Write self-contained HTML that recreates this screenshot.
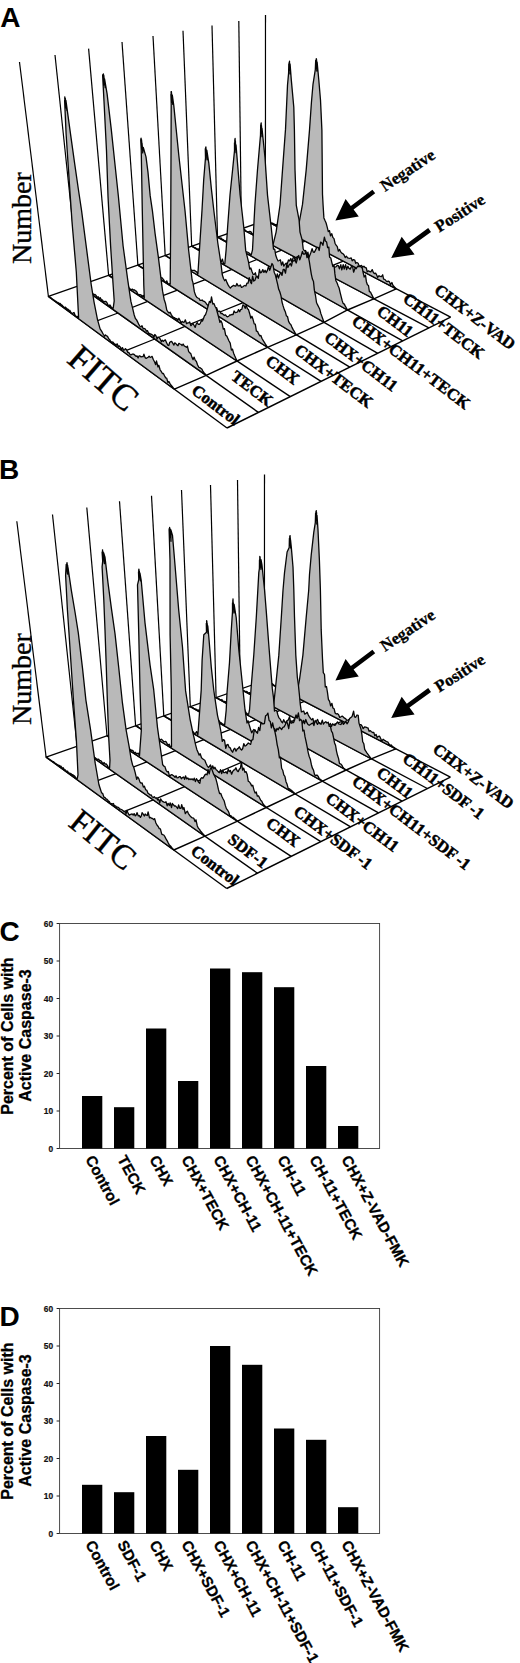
<!DOCTYPE html>
<html><head><meta charset="utf-8"><title>Figure</title>
<style>
html,body{margin:0;padding:0;background:#fff;}
body{width:520px;height:1663px;overflow:hidden;}
svg{display:block;}
text{white-space:pre;}
</style></head><body>
<svg width="520" height="1663" viewBox="0 0 520 1663">
<rect width="520" height="1663" fill="#fff"/>
<g id="panelA">
<line x1="48.4" y1="296.4" x2="265.4" y2="220.4" stroke="#000" stroke-width="1.30"/>
<polyline points="174.4,389.2 206.2,375.4 237.0,361.0 267.5,347.3 296.3,334.8 324.0,322.3 347.5,310.0 373.8,298.8 396.2,288.8" fill="none" stroke="#000" stroke-width="1.4"/>
<polyline points="86.9,324.7 118.0,313.0 147.7,301.4 177.4,290.1 205.2,279.7 232.1,269.4 257.2,259.4 281.8,250.1 305.3,241.2" fill="none" stroke="#000" stroke-width="1.3"/>
<polyline points="123.4,351.6 154.8,339.0 185.0,326.3 215.0,314.0 243.2,302.7 270.4,291.5 294.9,280.5 320.2,270.4 343.3,261.1" fill="none" stroke="#000" stroke-width="1.3"/>
<line x1="227.0" y1="428.0" x2="450.6" y2="317.2" stroke="#000" stroke-width="1.40"/>
<line x1="48.4" y1="296.4" x2="227.0" y2="428.0" stroke="#000" stroke-width="1.40"/>
<line x1="79.3" y1="285.6" x2="258.4" y2="412.4" stroke="#000" stroke-width="1.40"/>
<line x1="108.6" y1="275.3" x2="290.3" y2="396.6" stroke="#000" stroke-width="1.40"/>
<line x1="137.9" y1="265.1" x2="321.1" y2="381.3" stroke="#000" stroke-width="1.40"/>
<line x1="165.2" y1="255.5" x2="349.8" y2="367.1" stroke="#000" stroke-width="1.40"/>
<line x1="191.7" y1="246.2" x2="377.8" y2="353.3" stroke="#000" stroke-width="1.40"/>
<line x1="217.5" y1="237.2" x2="402.7" y2="340.9" stroke="#000" stroke-width="1.40"/>
<line x1="241.4" y1="228.8" x2="428.9" y2="327.9" stroke="#000" stroke-width="1.40"/>
<line x1="265.4" y1="220.4" x2="450.6" y2="317.2" stroke="#000" stroke-width="1.40"/>
<line x1="19.5" y1="62.0" x2="48.4" y2="296.4" stroke="#000" stroke-width="1.20"/>
<line x1="55.0" y1="55.0" x2="79.3" y2="285.6" stroke="#000" stroke-width="1.20"/>
<line x1="88.6" y1="48.6" x2="108.6" y2="275.3" stroke="#000" stroke-width="1.20"/>
<line x1="122.0" y1="42.0" x2="137.9" y2="265.1" stroke="#000" stroke-width="1.20"/>
<line x1="153.0" y1="36.0" x2="165.2" y2="255.5" stroke="#000" stroke-width="1.20"/>
<line x1="183.0" y1="30.8" x2="191.7" y2="246.2" stroke="#000" stroke-width="1.20"/>
<line x1="212.0" y1="25.5" x2="217.5" y2="237.2" stroke="#000" stroke-width="1.20"/>
<line x1="238.8" y1="21.0" x2="241.4" y2="228.8" stroke="#000" stroke-width="1.20"/>
<line x1="265.5" y1="15.0" x2="265.4" y2="220.4" stroke="#000" stroke-width="1.20"/>
<path d="M265.4,220.4 266.6,220.6 267.8,221.0 269.0,221.7 270.2,222.7 271.4,223.1 272.5,223.2 273.7,223.8 274.9,224.4 276.1,224.8 277.3,224.5 278.5,226.0 279.6,226.3 280.8,225.8 282.0,228.4 283.2,227.7 284.4,228.3 285.6,228.5 286.7,229.9 287.9,231.3 289.1,231.9 290.3,231.8 291.5,232.4 292.7,233.1 293.8,235.0 295.0,234.8 296.2,235.0 298.8,224.7 302.5,204.4 306.2,169.9 309.5,130.1 311.4,102.7 313.0,84.3 315.3,69.7 315.7,60.3 315.7,66.4 316.0,60.0 316.0,65.0 316.3,58.6 316.3,65.6 316.6,59.7 316.5,68.8 316.8,63.0 316.8,71.1 317.1,61.9 318.8,80.0 320.5,100.0 321.9,130.1 322.5,194.3 323.1,205.3 323.9,217.9 325.0,220.6 326.1,223.0 327.2,227.2 328.3,231.6 329.5,230.6 330.5,235.8 331.8,233.7 332.8,237.4 334.0,238.6 335.0,243.2 336.1,245.2 337.3,246.7 338.3,251.1 339.6,249.5 340.7,251.9 341.8,253.1 343.0,253.8 344.1,255.0 345.2,257.6 346.4,256.2 347.6,257.8 348.8,258.1 349.9,258.3 351.2,257.9 352.2,260.8 353.5,259.6 354.7,260.0 355.7,263.3 356.9,262.5 358.1,263.2 359.1,266.0 360.4,265.8 361.6,265.5 362.7,267.2 363.9,266.3 365.1,267.5 366.3,267.8 367.2,271.8 368.5,270.9 369.6,271.5 370.8,271.8 372.2,269.6 373.2,272.2 374.3,273.7 375.6,273.2 376.7,275.1 377.7,277.4 379.0,275.7 380.2,276.4 381.4,276.7 382.7,274.8 383.6,279.2 384.8,279.4 385.9,280.7 387.1,281.7 388.3,281.1 389.5,281.9 390.5,284.7 391.9,282.5 392.9,285.3 394.0,286.4 395.1,287.6 396.2,288.8 Z" fill="#b9b9b9" stroke="#050505" stroke-width="1.3" stroke-linejoin="round"/>
<path d="M241.4,228.8 242.6,229.2 243.8,229.4 245.0,229.9 246.1,231.0 247.3,231.7 248.5,231.9 249.7,231.4 250.8,231.6 252.0,233.5 253.2,234.5 254.4,235.4 255.5,235.7 256.7,235.2 257.9,236.5 259.1,236.9 260.3,236.8 261.4,239.2 262.6,239.3 263.8,238.9 265.0,239.9 266.1,240.3 267.3,240.4 268.5,240.8 269.7,241.1 270.8,242.2 272.0,242.6 273.2,244.2 276.1,232.1 280.0,205.0 282.5,170.1 285.5,129.4 287.5,85.2 288.6,73.1 288.8,63.8 288.9,69.0 289.2,62.4 289.3,67.7 289.5,61.2 289.5,69.5 289.8,63.5 289.8,70.6 290.1,65.6 290.1,73.9 290.1,64.3 291.3,79.9 293.8,107.3 294.4,129.8 295.0,169.4 296.3,205.4 299.1,220.2 300.0,232.1 301.1,236.1 302.2,240.1 303.2,249.0 304.4,251.0 305.6,250.5 306.6,255.3 307.9,252.2 308.9,258.0 310.2,256.4 311.3,258.3 312.5,257.0 313.6,260.0 314.8,258.7 315.9,262.5 317.1,261.7 318.3,261.1 319.4,262.9 320.7,260.8 321.8,264.0 323.0,263.8 324.1,265.3 325.4,262.8 326.4,266.0 327.6,268.1 328.8,265.3 330.0,265.8 331.1,267.9 332.4,264.9 333.5,268.5 334.7,267.2 335.9,266.9 337.2,265.5 338.4,265.6 339.4,268.9 340.8,264.7 341.8,269.8 343.2,264.6 344.2,269.0 345.6,264.6 346.6,269.5 347.9,266.2 349.0,268.4 350.2,269.1 351.5,266.4 352.7,266.8 353.6,272.2 355.1,268.0 356.2,268.7 357.6,266.2 358.7,266.7 360.0,266.3 361.1,267.0 362.3,268.2 363.2,272.8 364.2,277.0 365.5,275.1 366.4,281.7 367.4,284.8 368.5,285.5 369.4,291.6 370.6,292.2 371.6,294.4 372.7,296.6 373.8,298.8 Z" fill="#b9b9b9" stroke="#050505" stroke-width="1.3" stroke-linejoin="round"/>
<path d="M217.5,237.2 218.7,237.6 219.9,238.3 221.0,238.0 222.2,239.3 223.4,239.9 224.5,240.7 225.7,240.8 226.9,242.2 228.0,241.6 229.1,241.3 230.3,243.8 231.5,243.3 232.7,245.0 233.8,245.9 235.0,245.6 236.2,246.7 237.3,247.1 238.5,247.2 239.7,247.9 240.8,247.4 242.0,248.4 243.1,249.4 244.3,250.2 245.5,251.5 246.7,251.9 247.8,252.2 249.0,253.0 250.2,254.1 251.3,254.7 252.5,249.8 254.9,205.3 257.5,169.7 260.5,135.1 260.7,125.0 260.8,131.7 261.0,123.6 261.1,129.5 261.2,122.8 261.4,131.0 261.5,125.7 261.7,133.8 261.9,128.7 262.0,136.7 262.0,128.2 265.0,157.8 267.5,195.1 271.2,227.2 273.5,249.1 274.7,249.1 275.8,255.6 276.9,258.5 278.1,261.0 279.2,260.5 280.4,259.9 281.5,265.1 282.7,261.9 283.8,266.2 284.9,264.5 286.1,263.2 287.3,263.8 288.5,260.0 289.6,260.9 290.8,258.5 291.9,262.0 293.1,257.8 294.3,257.4 295.4,260.9 296.6,257.1 297.8,256.5 299.0,258.5 300.1,260.4 301.3,257.0 302.5,257.0 303.6,260.2 304.8,257.4 305.9,259.7 307.2,255.8 308.3,259.3 309.6,255.8 310.8,252.8 312.1,248.7 313.2,252.0 314.4,252.3 315.6,249.9 316.9,247.3 318.1,247.3 319.2,250.5 320.6,242.1 321.8,243.1 322.9,245.3 324.4,237.2 325.4,241.1 326.6,242.0 327.6,247.6 328.8,247.1 329.6,257.2 330.8,258.0 331.8,262.3 332.9,266.5 334.1,265.6 334.9,273.9 335.9,280.8 337.0,282.8 338.0,285.4 339.1,288.0 340.1,292.3 341.1,296.4 342.1,300.4 343.1,303.4 344.3,304.1 345.3,306.1 346.4,308.0 347.5,310.0 Z" fill="#b9b9b9" stroke="#050505" stroke-width="1.3" stroke-linejoin="round"/>
<path d="M191.7,246.2 192.9,246.6 194.0,247.3 195.2,247.7 196.3,248.6 197.4,249.3 198.5,248.9 199.7,250.3 200.8,250.5 202.0,251.8 203.1,251.1 204.2,251.9 205.4,252.2 206.5,253.8 207.7,253.8 208.8,255.3 209.9,254.9 211.1,257.2 212.2,255.9 213.3,256.4 214.5,257.8 215.6,257.0 216.8,258.9 217.9,257.9 219.1,260.5 220.2,261.5 221.4,261.6 222.4,259.1 223.7,264.2 224.8,263.8 226.1,250.1 227.6,227.3 230.0,195.0 232.6,169.7 234.5,150.7 234.5,142.8 234.8,147.5 234.8,139.7 235.0,145.5 235.1,138.4 235.3,146.5 235.4,141.0 235.7,149.8 235.8,144.6 236.0,152.7 236.0,144.8 237.7,165.5 240.1,194.7 243.8,227.5 245.7,250.4 248.5,261.8 249.7,269.0 250.8,267.9 252.0,271.5 253.1,274.3 254.3,274.3 255.4,272.8 256.6,277.9 257.7,276.3 258.9,277.2 260.0,277.8 261.2,276.6 262.3,277.5 263.5,277.1 264.6,276.9 265.8,277.4 266.9,278.1 268.0,281.9 269.2,277.4 270.4,280.0 271.5,278.7 272.7,278.9 273.8,275.4 275.0,276.6 276.1,278.3 277.3,274.0 278.4,278.1 279.6,274.5 280.8,272.7 282.0,275.4 283.2,269.5 284.3,269.5 285.5,273.2 286.8,263.9 287.9,267.5 289.1,264.9 290.3,263.6 291.4,266.0 292.7,260.4 293.9,261.1 295.1,260.0 296.2,263.0 297.5,258.3 298.7,255.5 299.8,259.9 301.1,256.1 302.4,251.5 303.5,254.2 304.7,254.2 305.9,251.5 307.0,257.7 308.2,255.7 309.3,261.3 310.3,267.9 311.3,274.1 312.4,279.1 313.5,281.6 314.4,290.4 315.5,295.5 316.5,302.5 317.6,304.9 318.7,307.0 319.8,309.3 320.8,313.4 321.9,316.4 322.9,319.3 324.0,322.3 Z" fill="#b9b9b9" stroke="#050505" stroke-width="1.3" stroke-linejoin="round"/>
<path d="M165.2,255.5 166.3,255.5 167.5,256.7 168.6,257.3 169.7,258.0 170.8,258.7 171.9,258.4 173.1,259.6 174.2,260.3 175.3,260.3 176.4,260.4 177.6,261.4 178.7,262.0 179.9,263.7 180.9,262.9 182.1,263.8 183.3,265.7 184.4,266.1 185.5,265.7 186.6,267.6 187.8,268.2 188.9,268.9 190.0,268.2 191.2,270.1 192.3,270.3 193.4,270.3 194.5,270.4 195.6,271.2 196.8,272.1 197.9,273.9 202.0,210.2 203.7,179.8 205.5,157.7 205.3,148.7 205.7,156.0 205.6,147.7 205.9,152.8 205.9,147.0 206.2,153.8 206.2,149.5 206.6,156.3 206.6,153.0 207.0,159.8 206.8,150.2 208.8,163.1 211.3,188.1 213.8,210.2 217.8,243.0 220.9,263.1 222.3,274.8 223.5,278.5 224.7,280.7 225.8,279.4 226.9,282.4 228.1,284.9 229.2,286.6 230.4,288.1 231.4,286.8 232.5,286.1 233.6,285.3 234.8,286.0 235.9,286.1 236.9,283.5 238.1,285.9 239.2,285.9 240.3,285.0 241.5,287.4 242.6,287.0 243.7,286.0 244.8,285.5 245.9,286.0 247.0,283.1 248.1,283.2 249.2,277.6 250.4,281.8 251.5,283.6 252.6,276.1 253.7,281.0 254.9,280.4 256.0,277.3 257.1,276.5 258.3,278.4 259.4,269.5 260.5,272.9 261.6,272.1 262.8,269.6 263.9,272.4 265.1,270.3 266.2,272.6 267.4,270.4 268.5,266.5 269.7,270.3 270.8,267.3 272.0,263.5 273.1,265.4 274.2,272.2 275.4,275.1 276.5,279.7 277.6,284.1 278.7,289.3 279.8,291.7 281.0,295.9 282.0,302.0 283.1,305.9 284.2,309.4 285.3,311.7 286.4,315.9 287.5,316.5 288.6,321.4 289.7,323.5 290.8,324.5 291.9,327.1 293.0,329.4 294.1,331.2 295.2,333.0 296.3,334.8 Z" fill="#b9b9b9" stroke="#050505" stroke-width="1.3" stroke-linejoin="round"/>
<path d="M137.9,265.1 139.0,265.4 140.1,266.3 141.2,267.0 142.3,267.7 143.4,268.1 144.5,268.6 145.7,269.6 146.8,270.1 147.9,271.2 148.9,270.4 150.1,271.6 151.2,272.7 152.3,272.7 153.4,273.5 154.6,274.2 155.7,275.1 156.8,275.5 157.9,275.8 159.0,276.1 160.1,276.7 161.2,277.8 162.3,278.0 163.5,279.7 164.7,281.7 165.8,282.3 166.8,280.9 168.0,283.9 169.1,283.8 170.2,284.2 170.8,210.6 171.2,103.7 170.9,94.5 171.3,100.2 171.1,91.6 171.5,98.3 171.4,91.7 171.9,100.2 171.8,94.2 172.3,102.4 172.2,96.0 172.7,104.3 172.3,95.1 173.8,105.6 178.8,155.2 185.0,210.5 188.7,250.7 192.1,280.0 192.9,282.4 194.4,291.9 195.6,295.3 196.7,297.2 197.8,298.0 198.9,298.4 200.1,300.4 201.2,300.4 202.2,300.0 203.3,301.2 204.4,301.5 205.6,302.5 206.7,304.3 207.8,305.2 209.0,308.9 210.0,305.4 211.1,304.8 212.2,306.9 213.3,307.1 214.5,309.7 215.5,308.8 216.6,307.8 217.7,311.0 218.8,311.5 219.9,311.2 221.1,313.6 222.2,313.3 223.3,314.6 224.4,315.3 225.5,314.9 226.6,316.4 227.7,316.8 228.8,316.2 229.8,314.9 230.9,315.0 232.0,314.4 233.1,314.5 234.1,311.0 235.3,312.6 236.4,312.3 237.5,311.9 238.5,309.6 239.7,311.8 240.7,309.6 241.8,309.4 242.9,304.9 244.0,305.4 245.2,308.3 246.2,304.7 247.4,308.7 248.5,309.6 249.7,313.7 250.8,318.1 251.9,316.3 253.0,319.3 254.2,323.9 255.3,324.1 256.4,331.2 257.5,331.3 258.6,333.9 259.8,335.8 260.9,335.5 262.0,338.5 263.1,340.3 264.2,342.1 265.3,343.9 266.4,345.6 267.5,347.3 Z" fill="#b9b9b9" stroke="#050505" stroke-width="1.3" stroke-linejoin="round"/>
<path d="M108.6,275.3 109.6,275.7 110.7,276.2 111.8,277.0 112.8,277.3 114.0,278.7 115.1,279.4 116.2,280.2 117.2,280.8 118.2,280.4 119.4,281.5 120.5,282.8 121.6,283.4 122.5,282.8 123.7,285.0 124.8,285.2 125.8,285.1 126.8,285.1 127.9,285.7 129.1,287.8 130.2,289.1 131.3,289.7 132.3,289.1 133.4,290.0 134.4,289.8 135.5,290.9 136.6,291.4 137.8,294.0 138.9,294.8 139.9,294.5 141.0,294.9 142.2,296.6 143.1,295.5 144.3,297.8 143.8,285.5 143.1,250.7 142.3,211.1 141.6,170.4 141.2,149.1 140.7,139.7 141.3,146.4 140.9,138.6 141.4,143.7 141.1,138.2 141.8,146.2 141.5,139.6 142.2,147.6 142.0,143.1 142.7,150.9 142.7,152.9 143.3,147.5 146.0,156.9 148.0,172.4 150.2,195.9 152.4,210.7 155.1,233.6 158.3,256.7 161.4,281.8 162.6,291.2 164.1,299.2 165.4,303.2 166.8,310.2 168.0,312.0 169.1,313.1 170.1,312.2 171.3,314.6 172.5,316.6 173.6,317.6 174.6,317.6 175.8,318.9 176.8,318.6 177.9,320.3 178.9,318.3 180.1,320.6 181.2,323.0 182.2,321.4 183.3,322.3 184.4,321.9 185.3,319.8 186.6,323.7 187.6,322.9 188.7,322.9 189.7,321.9 190.9,325.7 191.9,324.6 192.9,323.4 194.1,325.5 195.2,327.4 196.2,324.0 197.2,322.5 198.3,324.3 199.4,324.3 200.4,323.1 201.4,320.6 202.5,321.1 203.5,318.5 204.5,315.8 205.5,314.8 206.5,311.9 207.5,308.4 208.5,304.7 209.4,301.4 210.6,302.6 211.5,296.9 212.8,304.0 213.9,303.5 215.1,306.5 216.2,308.3 217.5,313.0 218.7,317.3 219.9,322.4 220.9,320.7 222.1,323.3 223.3,329.1 224.4,328.6 225.7,335.3 226.8,336.1 227.9,338.5 229.0,341.0 230.2,343.1 231.4,350.0 232.5,349.1 233.6,353.2 234.7,355.8 235.9,358.4 237.0,361.0 Z" fill="#b9b9b9" stroke="#050505" stroke-width="1.3" stroke-linejoin="round"/>
<path d="M79.3,285.6 80.3,286.1 81.4,286.9 82.4,286.8 83.5,288.4 84.6,289.1 85.6,289.4 86.6,290.1 87.7,290.5 88.8,291.7 89.7,291.4 90.8,292.5 91.8,291.9 92.9,293.8 94.0,294.7 95.0,294.5 96.1,295.5 97.3,297.4 98.2,296.8 99.4,298.7 100.3,297.8 101.5,300.1 102.5,300.0 103.6,301.8 104.6,301.5 105.6,301.3 106.7,302.3 107.9,304.6 109.0,306.0 109.9,304.9 111.1,306.9 112.1,307.8 113.2,308.2 114.2,300.9 113.0,283.3 110.6,245.9 108.0,196.3 106.5,151.1 104.0,101.3 102.6,74.9 103.6,85.2 103.0,75.8 103.7,83.2 103.1,74.4 103.8,80.3 103.4,73.8 104.2,82.5 103.8,75.3 104.7,84.7 104.4,78.7 105.2,87.6 104.6,79.0 107.1,93.8 111.3,129.6 115.6,170.2 118.4,196.5 123.1,246.0 127.8,280.3 130.9,301.4 132.6,308.1 134.2,315.0 135.4,318.5 136.6,319.9 137.7,322.1 138.9,324.7 140.1,326.5 141.1,326.9 142.0,325.7 143.3,328.9 144.3,328.5 145.3,329.1 146.5,331.2 147.4,330.6 148.7,333.5 149.7,333.4 150.7,334.2 151.8,334.5 152.8,335.2 154.0,337.1 154.8,334.5 155.9,335.7 157.1,338.9 158.0,337.0 159.1,337.6 160.2,339.0 161.4,341.7 162.3,340.2 163.4,341.4 164.4,340.4 165.4,339.9 166.5,342.4 167.7,345.1 168.8,345.5 169.6,342.6 170.6,341.7 171.6,341.4 172.7,343.2 173.9,345.1 174.8,342.8 175.9,343.7 176.9,344.9 178.0,345.7 178.9,343.3 180.0,344.0 181.1,344.4 182.1,345.5 183.1,344.0 184.2,345.9 185.3,346.5 186.4,347.3 187.4,346.1 188.6,351.3 189.7,352.8 190.8,353.6 192.0,357.4 193.1,359.6 194.1,357.1 195.3,360.4 196.3,361.2 197.5,364.7 198.6,367.1 199.7,367.7 200.7,368.2 201.8,369.0 202.9,371.1 204.0,372.6 205.1,374.0 206.2,375.4 Z" fill="#b9b9b9" stroke="#050505" stroke-width="1.3" stroke-linejoin="round"/>
<path d="M48.4,296.4 49.5,296.9 50.6,297.6 51.6,298.5 52.7,299.3 53.8,300.1 54.9,300.9 55.9,301.3 57.1,302.5 58.0,302.5 59.1,303.4 60.1,303.3 61.3,304.8 62.3,305.4 63.5,306.8 64.6,307.7 65.5,307.1 66.7,308.7 67.7,309.1 68.8,310.0 69.8,310.4 71.1,312.9 72.2,313.7 73.1,312.9 74.0,312.5 75.4,316.1 76.4,316.3 77.4,316.4 78.6,317.6 76.3,272.0 72.1,223.0 69.3,182.3 66.1,134.0 64.6,100.5 65.3,108.1 64.6,100.3 65.4,106.6 64.7,98.0 65.4,103.3 64.8,96.8 65.8,105.6 65.3,98.4 66.2,106.3 66.0,102.8 66.9,110.5 65.9,100.4 70.4,133.1 74.7,163.8 78.4,189.5 81.5,210.1 86.4,247.7 91.2,284.5 94.1,302.3 97.5,319.6 100.1,328.9 102.2,332.2 103.4,334.5 104.6,336.2 105.4,334.9 106.5,335.8 107.5,336.4 108.7,338.8 109.8,339.8 111.0,341.9 112.0,342.0 113.0,342.1 114.1,343.7 115.1,344.2 116.2,345.3 117.1,343.8 118.3,346.6 119.3,345.9 120.4,347.2 121.6,349.6 122.4,347.6 123.6,350.1 124.6,349.9 125.4,348.6 126.5,349.8 127.8,352.6 128.7,352.3 129.9,354.3 130.9,355.0 131.9,354.3 132.8,354.0 133.9,354.3 134.9,355.3 136.0,356.4 137.0,355.9 138.1,358.0 139.0,355.9 140.0,355.9 141.1,356.9 142.1,356.6 143.1,356.7 143.9,354.1 145.1,357.6 146.2,358.4 147.2,357.8 148.1,357.2 149.1,356.2 150.2,357.3 151.2,357.0 152.1,356.4 153.4,359.7 154.5,361.7 155.7,364.7 156.5,361.0 157.9,366.9 158.8,365.2 160.1,369.8 161.2,371.4 162.4,373.5 163.4,373.5 164.5,375.7 165.7,377.9 166.7,378.2 167.9,382.5 168.9,381.5 170.0,383.6 171.1,385.2 172.2,386.5 173.3,387.9 174.4,389.2 Z" fill="#b9b9b9" stroke="#050505" stroke-width="1.3" stroke-linejoin="round"/>
<text transform="translate(190.4,392.4) rotate(37.3)" font-family="'Liberation Serif',serif" font-weight="bold" font-size="16.6" fill="#000" stroke="#000" stroke-width="0.5">Control</text>
<text transform="translate(230.1,378.6) rotate(37.3)" font-family="'Liberation Serif',serif" font-weight="bold" font-size="16.6" fill="#000" stroke="#000" stroke-width="0.5">TECK</text>
<text transform="translate(264.4,362.9) rotate(37.3)" font-family="'Liberation Serif',serif" font-weight="bold" font-size="16.6" fill="#000" stroke="#000" stroke-width="0.5">CHX</text>
<text transform="translate(293.2,352.0) rotate(37.3)" font-family="'Liberation Serif',serif" font-weight="bold" font-size="16.6" fill="#000" stroke="#000" stroke-width="0.5">CHX+TECK</text>
<text transform="translate(323.2,339.5) rotate(37.3)" font-family="'Liberation Serif',serif" font-weight="bold" font-size="16.6" fill="#000" stroke="#000" stroke-width="0.5">CHX+CH11</text>
<text transform="translate(350.7,323.2) rotate(37.3)" font-family="'Liberation Serif',serif" font-weight="bold" font-size="16.6" fill="#000" stroke="#000" stroke-width="0.5">CHX+CH11+TECK</text>
<text transform="translate(375.7,313.2) rotate(37.3)" font-family="'Liberation Serif',serif" font-weight="bold" font-size="16.6" fill="#000" stroke="#000" stroke-width="0.5">CH11</text>
<text transform="translate(401.9,300.7) rotate(37.3)" font-family="'Liberation Serif',serif" font-weight="bold" font-size="16.6" fill="#000" stroke="#000" stroke-width="0.5">CH11+TECK</text>
<text transform="translate(433.2,292.0) rotate(37.3)" font-family="'Liberation Serif',serif" font-weight="bold" font-size="16.6" fill="#000" stroke="#000" stroke-width="0.5">CHX+Z-VAD</text>
<text x="0.3" y="26.8" font-family="'Liberation Sans',sans-serif" font-weight="bold" font-size="28" fill="#000">A</text>
<text transform="translate(31.2,264) rotate(-90)" font-family="'Liberation Serif',serif" font-size="28" fill="#000" stroke="#000" stroke-width="0.35">Number</text>
<text transform="translate(65.6,361.4) rotate(41)" font-family="'Liberation Serif',serif" font-size="36.5" fill="#000" stroke="#000" stroke-width="0.4">FITC</text>
<text transform="translate(385,192) rotate(-33.8)" font-family="'Liberation Serif',serif" font-weight="bold" font-size="16.6" fill="#000" stroke="#000" stroke-width="0.3">Negative</text>
<text transform="translate(439.3,232.8) rotate(-32.8)" font-family="'Liberation Serif',serif" font-weight="bold" font-size="16.8" fill="#000" stroke="#000" stroke-width="0.3">Positive</text>
<polygon points="372.4,189.7 350.8,205.9 345.6,199.0 335.4,220.4 358.8,216.6 353.6,209.6 375.2,193.3" fill="#000"/>
<polygon points="428.2,228.1 406.8,243.8 401.7,236.7 391.2,258.0 414.6,254.5 409.5,247.5 431.0,231.9" fill="#000"/>
</g>
<g id="panelB">
<line x1="46.1" y1="757.1" x2="264.4" y2="680.7" stroke="#000" stroke-width="1.30"/>
<polyline points="173.8,850.0 205.0,836.2 237.5,821.2 266.2,807.5 295.0,793.8 322.5,781.2 346.2,770.0 371.2,758.8 395.8,748.8" fill="none" stroke="#000" stroke-width="1.4"/>
<polyline points="85.0,785.4 116.1,773.7 146.8,761.9 175.5,750.7 203.8,739.6 230.7,729.4 255.8,719.7 280.2,710.4 304.5,701.4" fill="none" stroke="#000" stroke-width="1.3"/>
<polyline points="122.0,812.4 153.2,799.8 184.6,786.6 213.4,774.4 241.9,762.2 269.0,751.0 293.5,740.7 318.2,730.6 342.6,721.2" fill="none" stroke="#000" stroke-width="1.3"/>
<line x1="226.7" y1="888.5" x2="450.4" y2="777.1" stroke="#000" stroke-width="1.40"/>
<line x1="46.1" y1="757.1" x2="226.7" y2="888.5" stroke="#000" stroke-width="1.40"/>
<line x1="77.1" y1="746.3" x2="257.5" y2="873.2" stroke="#000" stroke-width="1.40"/>
<line x1="107.0" y1="735.8" x2="291.2" y2="856.4" stroke="#000" stroke-width="1.40"/>
<line x1="135.6" y1="725.7" x2="320.8" y2="841.6" stroke="#000" stroke-width="1.40"/>
<line x1="163.8" y1="715.9" x2="350.6" y2="826.8" stroke="#000" stroke-width="1.40"/>
<line x1="190.3" y1="706.6" x2="378.5" y2="812.9" stroke="#000" stroke-width="1.40"/>
<line x1="216.1" y1="697.6" x2="402.1" y2="801.1" stroke="#000" stroke-width="1.40"/>
<line x1="240.2" y1="689.1" x2="427.3" y2="788.5" stroke="#000" stroke-width="1.40"/>
<line x1="264.4" y1="680.7" x2="450.4" y2="777.1" stroke="#000" stroke-width="1.40"/>
<line x1="16.8" y1="521.2" x2="46.1" y2="757.1" stroke="#000" stroke-width="1.20"/>
<line x1="52.5" y1="514.5" x2="77.1" y2="746.3" stroke="#000" stroke-width="1.20"/>
<line x1="86.8" y1="507.5" x2="107.0" y2="735.8" stroke="#000" stroke-width="1.20"/>
<line x1="119.5" y1="501.2" x2="135.6" y2="725.7" stroke="#000" stroke-width="1.20"/>
<line x1="151.5" y1="495.8" x2="163.8" y2="715.9" stroke="#000" stroke-width="1.20"/>
<line x1="181.5" y1="490.0" x2="190.3" y2="706.6" stroke="#000" stroke-width="1.20"/>
<line x1="210.5" y1="485.0" x2="216.1" y2="697.6" stroke="#000" stroke-width="1.20"/>
<line x1="237.5" y1="480.0" x2="240.2" y2="689.1" stroke="#000" stroke-width="1.20"/>
<line x1="264.5" y1="474.5" x2="264.4" y2="680.7" stroke="#000" stroke-width="1.20"/>
<path d="M264.4,680.7 265.6,681.1 266.8,681.1 268.0,681.6 269.1,682.5 270.3,683.2 271.5,683.2 272.6,684.1 273.8,685.1 275.0,685.9 276.1,686.5 277.3,686.7 278.5,687.2 279.6,686.3 280.8,685.7 282.0,688.8 283.2,687.4 284.3,689.8 285.5,690.0 286.6,691.0 287.8,690.4 289.0,692.0 290.1,692.6 291.3,693.9 292.5,693.6 293.7,694.0 294.9,692.9 296.0,695.6 297.6,689.8 299.5,679.6 302.9,655.1 306.2,617.4 308.7,590.3 309.5,574.5 311.2,555.1 313.8,532.1 315.3,522.7 315.6,513.1 315.7,519.0 316.0,511.4 316.0,517.6 316.3,510.6 316.2,519.7 316.6,512.7 316.5,520.3 316.8,516.0 316.8,524.0 317.0,515.4 318.0,530.0 319.4,560.1 320.4,590.0 321.2,629.9 322.5,658.7 323.3,672.6 324.5,674.5 325.3,687.0 326.5,686.5 327.5,692.7 328.4,699.4 329.6,701.3 330.6,705.9 331.9,703.4 332.9,708.0 334.1,708.7 335.1,713.0 336.3,714.0 337.5,713.6 338.6,714.7 339.7,717.4 340.9,716.8 342.2,716.1 343.3,717.0 344.5,718.2 345.6,718.7 346.8,720.4 348.0,720.0 349.2,719.7 350.3,721.7 351.6,720.7 352.7,722.0 353.9,721.9 355.1,721.7 356.2,723.3 357.3,725.2 358.6,724.9 359.8,724.6 361.0,724.7 362.1,726.2 363.2,728.7 364.5,727.0 365.7,727.2 366.9,727.7 368.0,728.0 369.1,731.3 370.3,730.6 371.4,731.8 372.6,732.5 373.8,732.4 374.8,735.8 376.1,734.4 377.1,737.6 378.4,736.3 379.6,736.2 380.7,738.5 381.7,741.0 383.1,739.3 384.2,740.2 385.4,740.8 386.5,741.7 387.7,741.9 388.8,743.6 389.9,745.3 391.2,744.9 392.3,746.3 393.4,747.1 394.6,747.9 395.8,748.8 Z" fill="#b9b9b9" stroke="#050505" stroke-width="1.3" stroke-linejoin="round"/>
<path d="M240.2,689.1 241.4,689.6 242.5,690.2 243.7,690.6 244.8,691.4 246.0,691.4 247.1,691.7 248.3,693.2 249.4,692.6 250.6,693.7 251.7,694.5 252.9,695.1 254.0,695.1 255.2,696.6 256.3,694.9 257.5,696.7 258.7,696.7 259.8,697.8 261.0,698.0 262.1,698.8 263.3,699.4 264.4,699.9 265.6,702.1 266.7,702.2 267.9,700.8 269.0,702.0 270.2,703.6 271.3,704.1 272.5,704.9 273.6,705.5 275.5,687.8 278.8,655.4 281.3,617.5 283.0,590.2 284.5,572.9 287.1,552.0 289.2,547.4 289.4,538.4 289.5,544.2 289.8,536.0 289.8,542.6 290.1,535.6 290.1,542.9 290.3,537.8 290.4,545.2 290.6,540.2 290.7,548.0 290.5,539.6 291.3,547.1 293.0,567.0 293.8,589.6 294.5,617.1 295.8,655.1 297.3,676.8 298.4,685.0 299.4,694.8 300.3,704.6 301.4,711.8 302.5,711.5 303.7,711.0 304.8,714.2 306.0,713.3 307.2,712.3 308.3,715.0 309.4,716.8 310.6,718.6 311.7,719.8 312.9,718.4 313.9,723.5 315.1,721.9 316.3,721.3 317.6,719.5 318.7,722.4 319.8,722.8 320.9,724.2 322.2,722.1 323.2,726.1 324.5,723.1 325.6,724.0 326.8,723.5 328.0,724.4 329.1,725.1 330.4,723.4 331.5,726.4 332.7,723.8 333.9,725.2 335.0,725.3 336.3,723.6 337.5,721.9 338.7,723.8 339.8,724.2 341.0,724.6 342.3,721.5 343.4,724.4 344.6,723.0 345.9,721.2 347.0,723.8 348.2,722.1 349.6,718.6 350.9,717.4 352.1,716.4 353.6,711.2 354.5,716.9 355.7,717.3 357.0,715.0 358.2,715.4 359.0,723.1 360.0,726.2 361.0,729.1 361.9,734.6 362.7,741.7 363.8,743.7 364.7,749.3 365.8,751.2 366.9,752.8 368.0,754.3 369.1,755.8 370.2,757.3 371.2,758.8 Z" fill="#b9b9b9" stroke="#050505" stroke-width="1.3" stroke-linejoin="round"/>
<path d="M216.1,697.6 217.3,697.9 218.4,698.7 219.6,699.3 220.8,700.0 221.9,699.5 223.1,701.3 224.2,701.3 225.4,701.6 226.6,703.2 227.7,703.2 228.9,703.3 230.0,703.2 231.2,704.9 232.3,704.3 233.5,706.3 234.7,706.9 235.9,708.1 237.0,706.9 238.2,708.8 239.3,709.0 240.5,708.6 241.7,710.3 242.8,710.8 244.0,710.9 245.1,710.7 246.3,713.0 247.5,713.8 248.6,714.2 249.5,710.2 251.3,685.3 253.8,654.7 256.3,617.2 258.8,572.6 259.4,568.5 259.5,559.9 259.7,564.9 259.8,556.5 259.9,562.2 260.1,557.0 260.2,565.2 260.4,559.2 260.5,567.2 260.7,561.0 260.9,569.3 261.0,559.7 262.0,565.2 264.6,590.5 266.2,610.4 268.8,644.8 271.2,675.1 272.3,688.4 273.4,696.8 274.5,711.1 275.6,710.2 276.8,710.9 277.9,715.0 279.0,717.9 280.2,719.1 281.3,721.5 282.5,722.7 283.7,719.7 284.8,722.1 285.9,722.8 287.1,720.7 288.3,719.9 289.5,716.7 290.6,722.3 291.8,720.8 292.9,721.4 294.1,719.6 295.2,721.4 296.4,724.8 297.6,721.2 298.7,723.9 300.0,719.2 301.1,722.2 302.2,724.0 303.5,720.3 304.5,723.7 305.8,719.5 306.9,722.7 308.0,724.5 309.2,725.3 310.4,724.5 311.6,723.6 312.8,723.0 313.9,725.6 315.2,720.5 316.3,722.1 317.5,724.4 318.7,722.3 319.8,723.6 321.0,724.3 322.3,720.1 323.4,724.2 324.6,722.5 325.8,721.7 327.0,723.0 328.2,722.2 329.2,726.4 330.4,725.9 331.4,731.0 332.5,732.9 333.5,737.5 334.5,742.7 335.6,745.5 336.5,751.1 337.5,755.3 338.6,758.6 339.5,763.6 340.7,763.8 341.8,765.2 342.9,767.0 344.0,768.7 345.1,769.4 346.2,770.0 Z" fill="#b9b9b9" stroke="#050505" stroke-width="1.3" stroke-linejoin="round"/>
<path d="M190.3,706.6 191.5,707.1 192.6,707.5 193.8,708.3 194.9,708.9 196.1,709.2 197.2,710.2 198.3,709.9 199.5,711.1 200.6,710.9 201.7,711.6 202.9,712.5 204.0,711.6 205.2,714.0 206.4,714.8 207.5,714.3 208.6,715.6 209.8,716.0 210.9,716.6 212.1,717.5 213.2,716.6 214.4,718.5 215.5,718.3 216.6,718.7 217.8,719.6 218.9,720.5 220.1,722.2 221.2,722.8 222.4,723.9 223.5,724.5 224.7,724.6 226.2,710.1 227.0,692.7 229.5,662.5 231.3,629.7 232.5,611.5 232.5,602.9 232.8,608.8 232.8,600.4 233.0,605.9 233.0,599.0 233.3,608.4 233.4,602.9 233.6,609.3 233.8,605.9 234.0,613.0 234.1,604.4 236.2,617.5 238.8,649.6 242.0,680.2 245.0,709.7 247.0,723.0 248.1,720.8 249.3,725.3 250.5,729.2 251.7,732.9 252.8,730.9 253.9,729.4 255.1,730.6 256.3,733.5 257.4,731.4 258.5,732.3 259.7,733.1 260.8,730.5 262.0,733.3 263.1,733.2 264.3,735.3 265.4,732.2 266.6,730.5 267.8,734.1 268.9,733.3 270.1,732.3 271.2,729.1 272.4,731.4 273.5,730.7 274.7,728.7 275.9,731.5 277.0,728.4 278.2,729.8 279.4,727.3 280.5,728.2 281.7,729.5 282.9,727.3 284.1,726.9 285.3,724.7 286.5,721.2 287.6,723.8 288.7,728.7 290.0,720.7 291.2,723.2 292.3,722.6 293.5,722.7 294.7,719.7 296.0,714.8 297.1,718.3 298.4,713.0 299.5,720.7 300.7,719.4 301.8,720.8 302.8,731.0 304.0,730.1 305.0,736.7 306.1,741.7 307.1,746.7 308.2,752.6 309.2,756.5 310.3,759.2 311.4,764.7 312.4,768.2 313.5,770.1 314.6,774.8 315.7,775.6 316.9,775.0 318.0,776.1 319.1,778.4 320.2,779.3 321.4,780.3 322.5,781.2 Z" fill="#b9b9b9" stroke="#050505" stroke-width="1.3" stroke-linejoin="round"/>
<path d="M163.8,715.9 164.9,716.4 166.1,717.0 167.2,717.7 168.3,718.3 169.5,719.1 170.6,719.4 171.7,720.1 172.9,720.8 174.0,720.9 175.1,721.8 176.2,721.5 177.4,722.5 178.5,722.2 179.7,724.2 180.8,724.5 181.9,725.6 183.0,725.6 184.2,725.7 185.3,726.9 186.4,727.1 187.6,728.6 188.7,728.1 189.9,730.3 191.0,728.9 192.1,730.7 193.3,732.0 194.5,733.7 195.6,733.2 196.6,731.6 197.9,734.7 201.2,690.1 202.1,660.2 203.8,634.7 206.5,632.2 206.3,623.5 206.7,629.6 206.6,620.7 206.9,627.6 206.8,620.8 207.2,627.9 207.2,623.5 207.6,631.0 207.6,625.2 208.0,633.4 207.8,626.1 208.7,635.5 211.3,667.4 213.8,690.5 217.5,715.3 219.6,724.7 220.9,731.5 222.3,741.4 223.3,739.6 224.5,740.4 225.8,748.3 226.8,744.8 228.0,744.5 229.1,747.3 230.3,747.9 231.4,750.7 232.6,752.2 233.7,749.2 234.8,748.3 236.0,751.2 237.1,749.1 238.2,748.4 239.3,746.8 240.4,748.9 241.6,750.0 242.7,748.5 243.8,743.6 244.9,746.1 246.1,745.5 247.2,744.3 248.3,743.0 249.5,743.8 250.6,744.4 251.7,740.2 252.9,739.7 254.0,731.7 255.1,730.0 256.3,732.3 257.5,733.2 258.6,727.5 259.8,730.6 260.9,722.5 262.1,723.8 263.3,723.9 264.4,723.7 265.6,715.7 266.8,715.0 267.9,713.1 269.1,720.5 270.3,721.6 271.4,727.8 272.6,723.0 273.8,728.1 274.9,731.7 276.0,737.0 277.2,744.8 278.3,749.7 279.4,757.9 280.5,757.3 281.6,768.2 282.7,770.2 283.8,774.9 284.9,776.3 286.0,781.7 287.1,784.3 288.2,788.3 289.4,788.8 290.5,789.8 291.6,790.4 292.7,791.5 293.9,792.6 295.0,793.8 Z" fill="#b9b9b9" stroke="#050505" stroke-width="1.3" stroke-linejoin="round"/>
<path d="M135.6,725.7 136.7,725.9 137.9,726.6 139.0,727.7 140.1,728.3 141.2,728.7 142.4,729.8 143.4,729.7 144.6,731.2 145.7,731.4 146.9,732.6 147.9,732.6 149.0,732.9 150.1,733.4 151.3,734.5 152.5,736.1 153.6,736.4 154.7,736.5 155.7,736.2 156.9,737.8 158.0,737.6 159.1,738.7 160.3,740.1 161.3,739.1 162.5,740.3 163.6,741.5 164.7,741.7 165.8,741.3 167.0,743.4 168.1,745.2 169.2,744.2 170.4,747.3 171.5,746.8 171.3,690.0 170.1,635.1 170.0,560.3 169.4,539.4 169.1,529.4 169.5,535.1 169.3,528.3 169.8,534.0 169.6,527.3 170.1,535.4 169.9,528.3 170.5,537.8 170.4,531.9 171.0,541.3 170.8,529.6 172.5,535.4 175.0,565.0 178.7,610.0 182.5,647.2 185.6,690.9 190.1,719.3 191.5,726.0 192.9,732.9 194.1,737.8 195.5,744.4 196.8,749.4 198.0,752.3 199.2,755.2 200.2,753.7 201.5,757.8 202.6,758.7 203.7,759.5 204.8,760.2 206.0,763.2 207.2,765.8 208.4,767.5 209.4,766.5 210.5,765.0 211.7,768.9 212.7,765.8 213.9,768.9 214.9,767.3 216.1,769.7 217.2,770.6 218.3,771.9 219.4,772.7 220.5,769.6 221.7,773.7 222.7,770.1 223.8,772.7 224.9,772.7 226.0,771.6 227.2,773.6 228.2,769.2 229.3,771.6 230.4,770.5 231.6,774.2 232.6,771.7 233.7,770.2 234.8,769.7 235.9,767.8 237.1,770.8 238.2,771.6 239.3,769.3 240.4,768.1 241.4,762.4 242.6,770.1 243.7,768.1 244.9,772.3 246.0,771.6 247.2,774.5 248.3,781.3 249.5,782.0 250.6,783.6 251.7,785.9 252.8,785.3 254.0,790.1 255.1,793.1 256.2,791.9 257.3,796.1 258.5,795.8 259.6,798.0 260.7,800.3 261.8,801.3 262.9,803.7 264.0,805.0 265.1,806.2 266.2,807.5 Z" fill="#b9b9b9" stroke="#050505" stroke-width="1.3" stroke-linejoin="round"/>
<path d="M107.0,735.8 108.0,736.3 109.1,737.0 110.2,737.7 111.3,738.2 112.4,739.2 113.5,739.9 114.6,740.6 115.6,740.4 116.6,740.8 117.8,741.9 118.8,742.5 119.9,742.6 121.1,744.8 122.2,745.4 123.3,746.3 124.3,746.0 125.3,746.6 126.4,746.7 127.6,748.9 128.6,748.0 129.7,749.0 130.8,749.9 131.8,750.4 132.9,750.4 134.1,753.4 135.1,752.2 136.2,753.3 137.3,753.7 138.3,753.2 139.5,755.7 139.9,749.8 141.3,730.6 140.0,689.7 138.8,635.5 137.5,584.9 138.8,579.4 138.5,571.9 139.0,577.6 138.7,569.8 139.1,574.4 138.9,569.1 139.5,577.2 139.3,571.1 139.9,578.0 139.8,574.3 140.4,580.8 139.9,572.8 141.2,580.3 145.0,622.9 150.1,665.4 153.7,689.7 157.5,727.6 162.4,762.5 162.6,764.5 163.8,766.1 164.8,766.4 166.1,770.3 167.3,771.8 168.3,771.5 169.7,776.8 170.6,775.2 171.7,774.7 172.7,775.2 173.8,775.9 175.0,777.4 176.0,775.8 177.1,777.9 178.2,777.7 179.2,776.7 180.2,776.6 181.4,778.8 182.4,777.5 183.5,777.0 184.6,779.3 185.5,775.8 186.7,778.9 187.8,777.9 188.9,779.6 189.9,778.8 191.1,779.6 192.1,778.8 193.2,780.1 194.2,778.2 195.4,781.6 196.4,778.6 197.5,780.3 198.7,782.3 199.8,783.4 200.7,778.7 201.7,777.6 202.8,778.3 203.9,776.7 204.9,774.9 206.0,774.1 207.1,774.8 208.0,769.5 209.2,773.8 210.2,769.2 211.2,767.8 212.4,770.8 213.6,774.3 214.7,776.3 215.9,778.8 217.1,783.3 218.4,789.4 219.6,793.6 220.7,793.3 221.8,796.3 223.0,798.7 224.1,800.7 225.3,805.4 226.4,808.6 227.6,810.2 228.7,812.0 229.8,815.6 230.9,815.6 232.0,817.6 233.1,817.2 234.2,818.2 235.3,819.2 236.4,820.2 237.5,821.2 Z" fill="#b9b9b9" stroke="#050505" stroke-width="1.3" stroke-linejoin="round"/>
<path d="M77.1,746.3 78.1,746.7 79.2,747.5 80.3,748.0 81.4,748.9 82.5,749.6 83.6,750.6 84.7,751.4 85.7,751.5 86.8,752.9 87.8,752.7 89.0,753.9 90.0,754.6 91.2,755.7 92.2,756.0 93.3,756.9 94.3,757.2 95.4,757.9 96.5,758.9 97.6,759.3 98.6,759.1 99.7,760.6 100.8,760.7 101.9,762.0 103.1,764.1 104.0,762.5 105.2,764.1 106.2,764.0 107.3,765.3 108.5,767.6 109.6,767.8 110.0,760.1 108.7,737.7 107.5,705.0 106.3,667.5 105.0,630.0 103.8,600.0 102.1,566.9 102.7,561.1 102.1,552.2 102.8,558.4 102.4,551.3 103.0,557.8 102.5,549.9 103.3,558.1 102.9,551.5 103.7,559.6 103.6,556.1 104.4,563.7 103.6,552.7 105.0,557.3 108.0,582.8 111.3,607.6 115.0,633.6 118.7,667.2 122.3,701.8 126.1,729.9 129.2,746.8 131.1,759.0 132.6,765.0 133.8,767.5 135.2,772.6 136.7,779.3 137.6,777.0 138.7,778.4 140.0,782.1 141.1,783.2 142.1,783.0 143.4,787.1 144.4,786.2 145.7,789.9 146.7,790.1 148.0,793.3 149.0,793.8 150.1,795.2 151.1,794.8 152.3,797.0 153.4,797.5 154.3,796.7 155.4,798.1 156.5,797.8 157.6,800.0 158.6,799.1 159.8,802.8 160.6,798.9 161.8,800.7 162.9,801.7 163.9,802.1 165.0,802.4 166.0,801.8 167.2,805.9 168.1,803.3 169.3,805.5 170.2,802.8 171.5,807.5 172.3,803.5 173.4,804.8 174.5,806.0 175.5,805.9 176.6,807.2 177.7,808.6 178.6,805.0 179.8,808.3 180.9,808.4 181.7,804.6 183.0,809.3 183.9,807.5 185.3,813.7 186.3,812.1 187.3,811.1 188.4,813.6 189.5,815.1 190.6,816.6 191.7,817.6 192.8,817.9 193.8,818.3 195.0,821.6 196.0,819.8 197.3,825.9 198.4,828.3 199.5,829.4 200.6,831.3 201.7,832.3 202.8,833.6 203.9,834.9 205.0,836.2 Z" fill="#b9b9b9" stroke="#050505" stroke-width="1.3" stroke-linejoin="round"/>
<path d="M46.1,757.1 47.1,757.6 48.2,758.5 49.3,759.3 50.4,760.0 51.4,760.5 52.5,761.6 53.5,761.7 54.6,762.8 55.7,763.5 56.8,764.2 57.9,765.1 58.9,765.2 60.0,766.1 60.9,766.2 62.2,768.2 63.1,767.7 64.3,769.5 65.3,769.8 66.5,771.7 67.5,771.1 68.7,773.3 69.6,773.0 70.7,773.6 71.8,774.4 72.8,774.9 73.9,775.6 75.0,776.6 76.2,778.3 77.2,778.8 78.0,774.8 76.4,740.6 73.8,705.6 71.3,668.0 68.8,630.2 67.4,609.8 65.6,575.2 66.2,564.5 67.5,574.0 66.8,566.5 67.6,572.4 66.9,563.6 67.6,569.5 67.0,562.6 68.1,571.9 67.6,565.2 68.6,573.9 68.1,568.0 69.1,576.4 68.0,567.5 71.3,590.1 75.0,612.0 78.3,632.8 82.5,668.1 85.9,700.1 90.5,729.3 95.2,763.2 98.9,784.5 100.1,788.3 101.6,792.9 102.6,793.3 104.0,797.4 104.9,797.4 106.1,798.9 107.1,799.4 108.2,800.7 109.3,801.6 110.5,803.8 111.4,803.5 112.4,803.8 113.4,803.5 114.6,806.5 115.6,805.9 116.7,807.2 117.7,807.1 118.7,807.7 119.8,809.2 120.8,809.2 121.9,809.8 122.9,810.6 124.0,811.5 125.0,811.6 126.1,813.8 126.9,810.4 128.1,813.1 129.2,815.2 130.2,814.5 131.2,814.3 132.1,813.8 133.2,815.1 134.1,813.6 135.3,815.9 136.2,815.0 137.0,812.6 138.3,815.9 139.3,815.5 140.4,817.4 141.3,815.9 142.1,812.7 143.2,814.2 144.3,816.0 145.2,814.0 146.3,815.2 147.3,815.5 148.1,812.0 149.5,817.9 150.5,817.4 151.6,818.3 152.6,818.5 153.7,819.6 154.6,818.6 155.9,823.0 157.1,825.3 158.2,826.5 159.3,828.6 160.4,828.9 161.7,834.1 162.7,834.6 163.8,835.0 164.9,836.7 166.0,838.9 167.2,840.8 168.3,843.1 169.4,845.1 170.5,846.0 171.6,847.4 172.7,848.7 173.8,850.0 Z" fill="#b9b9b9" stroke="#050505" stroke-width="1.3" stroke-linejoin="round"/>
<text transform="translate(189.7,853.0) rotate(37.3)" font-family="'Liberation Serif',serif" font-weight="bold" font-size="16.6" fill="#000" stroke="#000" stroke-width="0.5">Control</text>
<text transform="translate(226.7,841.6) rotate(37.3)" font-family="'Liberation Serif',serif" font-weight="bold" font-size="16.6" fill="#000" stroke="#000" stroke-width="0.5">SDF-1</text>
<text transform="translate(265.1,825.2) rotate(37.3)" font-family="'Liberation Serif',serif" font-weight="bold" font-size="16.6" fill="#000" stroke="#000" stroke-width="0.5">CHX</text>
<text transform="translate(292.4,813.4) rotate(37.3)" font-family="'Liberation Serif',serif" font-weight="bold" font-size="16.6" fill="#000" stroke="#000" stroke-width="0.5">CHX+SDF<tspan dx="2.5">-1</tspan></text>
<text transform="translate(324.4,800.2) rotate(37.3)" font-family="'Liberation Serif',serif" font-weight="bold" font-size="16.6" fill="#000" stroke="#000" stroke-width="0.5">CHX+CH11</text>
<text transform="translate(350.9,783.5) rotate(37.3)" font-family="'Liberation Serif',serif" font-weight="bold" font-size="16.6" fill="#000" stroke="#000" stroke-width="0.5">CHX+CH11+SDF<tspan dx="2.5">-1</tspan></text>
<text transform="translate(375.4,774.7) rotate(37.3)" font-family="'Liberation Serif',serif" font-weight="bold" font-size="16.6" fill="#000" stroke="#000" stroke-width="0.5">CH11</text>
<text transform="translate(401.4,760.7) rotate(37.3)" font-family="'Liberation Serif',serif" font-weight="bold" font-size="16.6" fill="#000" stroke="#000" stroke-width="0.5">CH11+SDF<tspan dx="2.5">-1</tspan></text>
<text transform="translate(431.7,751.2) rotate(37.3)" font-family="'Liberation Serif',serif" font-weight="bold" font-size="16.6" fill="#000" stroke="#000" stroke-width="0.5">CHX+Z-VAD</text>
<text x="-1.1" y="479.4" font-family="'Liberation Sans',sans-serif" font-weight="bold" font-size="28" fill="#000">B</text>
<text transform="translate(31.2,725) rotate(-90)" font-family="'Liberation Serif',serif" font-size="28" fill="#000" stroke="#000" stroke-width="0.35">Number</text>
<text transform="translate(67.0,825.3) rotate(39)" font-family="'Liberation Serif',serif" font-size="34.2" fill="#000" stroke="#000" stroke-width="0.4">FITC</text>
<text transform="translate(385,652) rotate(-33.8)" font-family="'Liberation Serif',serif" font-weight="bold" font-size="16.6" fill="#000" stroke="#000" stroke-width="0.3">Negative</text>
<text transform="translate(439.3,692.8) rotate(-32.8)" font-family="'Liberation Serif',serif" font-weight="bold" font-size="16.8" fill="#000" stroke="#000" stroke-width="0.3">Positive</text>
<polygon points="372.4,649.7 350.8,665.9 345.6,659.0 335.4,680.4 358.8,676.6 353.6,669.6 375.2,653.3" fill="#000"/>
<polygon points="428.2,688.1 406.8,703.8 401.7,696.7 391.2,718.0 414.6,714.5 409.5,707.5 431.0,691.9" fill="#000"/>
</g>
<g id="panelC">
<rect x="59.6" y="923.5" width="320.0" height="225.0" fill="none" stroke="#3a3a3a" stroke-width="0.9"/>
<line x1="56.6" y1="1148.5" x2="59.6" y2="1148.5" stroke="#222" stroke-width="1"/>
<text x="53.1" y="1151.5" text-anchor="end" font-family="'Liberation Sans',sans-serif" font-weight="bold" font-size="8.4" fill="#111" stroke="#111" stroke-width="0.2">0</text>
<line x1="56.6" y1="1111.0" x2="59.6" y2="1111.0" stroke="#222" stroke-width="1"/>
<text x="53.1" y="1114.0" text-anchor="end" font-family="'Liberation Sans',sans-serif" font-weight="bold" font-size="8.4" fill="#111" stroke="#111" stroke-width="0.2">10</text>
<line x1="56.6" y1="1073.5" x2="59.6" y2="1073.5" stroke="#222" stroke-width="1"/>
<text x="53.1" y="1076.5" text-anchor="end" font-family="'Liberation Sans',sans-serif" font-weight="bold" font-size="8.4" fill="#111" stroke="#111" stroke-width="0.2">20</text>
<line x1="56.6" y1="1036.0" x2="59.6" y2="1036.0" stroke="#222" stroke-width="1"/>
<text x="53.1" y="1039.0" text-anchor="end" font-family="'Liberation Sans',sans-serif" font-weight="bold" font-size="8.4" fill="#111" stroke="#111" stroke-width="0.2">30</text>
<line x1="56.6" y1="998.5" x2="59.6" y2="998.5" stroke="#222" stroke-width="1"/>
<text x="53.1" y="1001.5" text-anchor="end" font-family="'Liberation Sans',sans-serif" font-weight="bold" font-size="8.4" fill="#111" stroke="#111" stroke-width="0.2">40</text>
<line x1="56.6" y1="961.0" x2="59.6" y2="961.0" stroke="#222" stroke-width="1"/>
<text x="53.1" y="964.0" text-anchor="end" font-family="'Liberation Sans',sans-serif" font-weight="bold" font-size="8.4" fill="#111" stroke="#111" stroke-width="0.2">50</text>
<line x1="56.6" y1="923.5" x2="59.6" y2="923.5" stroke="#222" stroke-width="1"/>
<text x="53.1" y="926.5" text-anchor="end" font-family="'Liberation Sans',sans-serif" font-weight="bold" font-size="8.4" fill="#111" stroke="#111" stroke-width="0.2">60</text>
<rect x="82.0" y="1096.0" width="20.3" height="52.5" fill="#000"/>
<rect x="114.0" y="1107.2" width="20.3" height="41.2" fill="#000"/>
<rect x="146.0" y="1028.5" width="20.3" height="120.0" fill="#000"/>
<rect x="178.0" y="1081.0" width="20.3" height="67.5" fill="#000"/>
<rect x="210.0" y="968.5" width="20.3" height="180.0" fill="#000"/>
<rect x="242.0" y="972.2" width="20.3" height="176.2" fill="#000"/>
<rect x="274.0" y="987.2" width="20.3" height="161.2" fill="#000"/>
<rect x="306.0" y="1066.0" width="20.3" height="82.5" fill="#000"/>
<rect x="338.0" y="1126.0" width="20.3" height="22.5" fill="#000"/>
<text transform="translate(85.0,1159.0) rotate(61.5)" font-family="'Liberation Sans',sans-serif" font-weight="bold" font-size="15.2" fill="#000" stroke="#000" stroke-width="0.3">Control</text>
<text transform="translate(117.0,1159.0) rotate(61.5)" font-family="'Liberation Sans',sans-serif" font-weight="bold" font-size="15.2" fill="#000" stroke="#000" stroke-width="0.3">TECK</text>
<text transform="translate(149.0,1159.0) rotate(61.5)" font-family="'Liberation Sans',sans-serif" font-weight="bold" font-size="15.2" fill="#000" stroke="#000" stroke-width="0.3">CHX</text>
<text transform="translate(181.0,1159.0) rotate(61.5)" font-family="'Liberation Sans',sans-serif" font-weight="bold" font-size="15.2" fill="#000" stroke="#000" stroke-width="0.3">CHX+TECK</text>
<text transform="translate(213.0,1159.0) rotate(61.5)" font-family="'Liberation Sans',sans-serif" font-weight="bold" font-size="15.2" fill="#000" stroke="#000" stroke-width="0.3">CHX+CH-11</text>
<text transform="translate(245.0,1159.0) rotate(61.5)" font-family="'Liberation Sans',sans-serif" font-weight="bold" font-size="15.2" fill="#000" stroke="#000" stroke-width="0.3">CHX+CH-11+TECK</text>
<text transform="translate(277.0,1159.0) rotate(61.5)" font-family="'Liberation Sans',sans-serif" font-weight="bold" font-size="15.2" fill="#000" stroke="#000" stroke-width="0.3">CH-11</text>
<text transform="translate(309.0,1159.0) rotate(61.5)" font-family="'Liberation Sans',sans-serif" font-weight="bold" font-size="15.2" fill="#000" stroke="#000" stroke-width="0.3">CH-11+TECK</text>
<text transform="translate(341.0,1159.0) rotate(61.5)" font-family="'Liberation Sans',sans-serif" font-weight="bold" font-size="15.2" fill="#000" stroke="#000" stroke-width="0.3">CHX+Z-VAD-FMK</text>
<text transform="translate(12.9,1036.1) rotate(-90)" text-anchor="middle" font-family="'Liberation Sans',sans-serif" font-weight="bold" font-size="16" fill="#000" stroke="#000" stroke-width="0.3">Percent of Cells with</text>
<text transform="translate(31.2,1035.5) rotate(-90)" text-anchor="middle" font-family="'Liberation Sans',sans-serif" font-weight="bold" font-size="16" fill="#000" stroke="#000" stroke-width="0.3">Active Caspase-3</text>
<text x="-0.6" y="940.9" font-family="'Liberation Sans',sans-serif" font-weight="bold" font-size="28" fill="#000">C</text>
</g>
<g id="panelD">
<rect x="59.6" y="1308.5" width="320.0" height="225.0" fill="none" stroke="#3a3a3a" stroke-width="0.9"/>
<line x1="56.6" y1="1533.5" x2="59.6" y2="1533.5" stroke="#222" stroke-width="1"/>
<text x="53.1" y="1536.5" text-anchor="end" font-family="'Liberation Sans',sans-serif" font-weight="bold" font-size="8.4" fill="#111" stroke="#111" stroke-width="0.2">0</text>
<line x1="56.6" y1="1496.0" x2="59.6" y2="1496.0" stroke="#222" stroke-width="1"/>
<text x="53.1" y="1499.0" text-anchor="end" font-family="'Liberation Sans',sans-serif" font-weight="bold" font-size="8.4" fill="#111" stroke="#111" stroke-width="0.2">10</text>
<line x1="56.6" y1="1458.5" x2="59.6" y2="1458.5" stroke="#222" stroke-width="1"/>
<text x="53.1" y="1461.5" text-anchor="end" font-family="'Liberation Sans',sans-serif" font-weight="bold" font-size="8.4" fill="#111" stroke="#111" stroke-width="0.2">20</text>
<line x1="56.6" y1="1421.0" x2="59.6" y2="1421.0" stroke="#222" stroke-width="1"/>
<text x="53.1" y="1424.0" text-anchor="end" font-family="'Liberation Sans',sans-serif" font-weight="bold" font-size="8.4" fill="#111" stroke="#111" stroke-width="0.2">30</text>
<line x1="56.6" y1="1383.5" x2="59.6" y2="1383.5" stroke="#222" stroke-width="1"/>
<text x="53.1" y="1386.5" text-anchor="end" font-family="'Liberation Sans',sans-serif" font-weight="bold" font-size="8.4" fill="#111" stroke="#111" stroke-width="0.2">40</text>
<line x1="56.6" y1="1346.0" x2="59.6" y2="1346.0" stroke="#222" stroke-width="1"/>
<text x="53.1" y="1349.0" text-anchor="end" font-family="'Liberation Sans',sans-serif" font-weight="bold" font-size="8.4" fill="#111" stroke="#111" stroke-width="0.2">50</text>
<line x1="56.6" y1="1308.5" x2="59.6" y2="1308.5" stroke="#222" stroke-width="1"/>
<text x="53.1" y="1311.5" text-anchor="end" font-family="'Liberation Sans',sans-serif" font-weight="bold" font-size="8.4" fill="#111" stroke="#111" stroke-width="0.2">60</text>
<rect x="82.0" y="1484.8" width="20.3" height="48.8" fill="#000"/>
<rect x="114.0" y="1492.2" width="20.3" height="41.2" fill="#000"/>
<rect x="146.0" y="1436.0" width="20.3" height="97.5" fill="#000"/>
<rect x="178.0" y="1469.8" width="20.3" height="63.8" fill="#000"/>
<rect x="210.0" y="1346.0" width="20.3" height="187.5" fill="#000"/>
<rect x="242.0" y="1364.8" width="20.3" height="168.8" fill="#000"/>
<rect x="274.0" y="1428.5" width="20.3" height="105.0" fill="#000"/>
<rect x="306.0" y="1439.8" width="20.3" height="93.8" fill="#000"/>
<rect x="338.0" y="1507.2" width="20.3" height="26.2" fill="#000"/>
<text transform="translate(85.0,1544.0) rotate(61.5)" font-family="'Liberation Sans',sans-serif" font-weight="bold" font-size="15.2" fill="#000" stroke="#000" stroke-width="0.3">Control</text>
<text transform="translate(117.0,1544.0) rotate(61.5)" font-family="'Liberation Sans',sans-serif" font-weight="bold" font-size="15.2" fill="#000" stroke="#000" stroke-width="0.3">SDF-1</text>
<text transform="translate(149.0,1544.0) rotate(61.5)" font-family="'Liberation Sans',sans-serif" font-weight="bold" font-size="15.2" fill="#000" stroke="#000" stroke-width="0.3">CHX</text>
<text transform="translate(181.0,1544.0) rotate(61.5)" font-family="'Liberation Sans',sans-serif" font-weight="bold" font-size="15.2" fill="#000" stroke="#000" stroke-width="0.3">CHX+SDF-1</text>
<text transform="translate(213.0,1544.0) rotate(61.5)" font-family="'Liberation Sans',sans-serif" font-weight="bold" font-size="15.2" fill="#000" stroke="#000" stroke-width="0.3">CHX+CH-11</text>
<text transform="translate(245.0,1544.0) rotate(61.5)" font-family="'Liberation Sans',sans-serif" font-weight="bold" font-size="15.2" fill="#000" stroke="#000" stroke-width="0.3">CHX+CH-11+SDF-1</text>
<text transform="translate(277.0,1544.0) rotate(61.5)" font-family="'Liberation Sans',sans-serif" font-weight="bold" font-size="15.2" fill="#000" stroke="#000" stroke-width="0.3">CH-11</text>
<text transform="translate(309.0,1544.0) rotate(61.5)" font-family="'Liberation Sans',sans-serif" font-weight="bold" font-size="15.2" fill="#000" stroke="#000" stroke-width="0.3">CH-11+SDF-1</text>
<text transform="translate(341.0,1544.0) rotate(61.5)" font-family="'Liberation Sans',sans-serif" font-weight="bold" font-size="15.2" fill="#000" stroke="#000" stroke-width="0.3">CHX+Z-VAD-FMK</text>
<text transform="translate(12.9,1421.1) rotate(-90)" text-anchor="middle" font-family="'Liberation Sans',sans-serif" font-weight="bold" font-size="16" fill="#000" stroke="#000" stroke-width="0.3">Percent of Cells with</text>
<text transform="translate(31.2,1420.5) rotate(-90)" text-anchor="middle" font-family="'Liberation Sans',sans-serif" font-weight="bold" font-size="16" fill="#000" stroke="#000" stroke-width="0.3">Active Caspase-3</text>
<text x="-0.6" y="1326.2" font-family="'Liberation Sans',sans-serif" font-weight="bold" font-size="28" fill="#000">D</text>
</g>
</svg>
</body></html>
